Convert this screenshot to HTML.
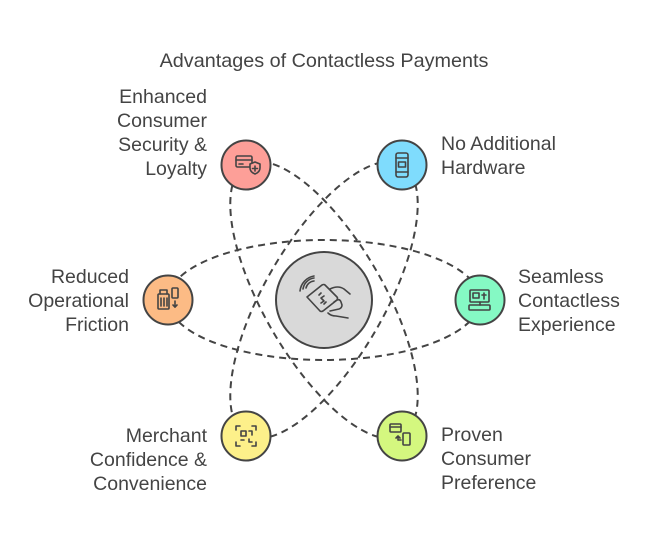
<!DOCTYPE html>
<html><head><meta charset="utf-8"><style>
html,body{margin:0;padding:0;background:#fff;}
svg{display:block;}
text{font-family:"Liberation Sans",Arial,sans-serif;font-size:19.5px;fill:#444;}
</style></head><body>
<svg width="660" height="540" viewBox="0 0 660 540" xmlns="http://www.w3.org/2000/svg">
<rect width="660" height="540" fill="#fff"/>
<text x="324" y="67" text-anchor="middle" style="font-size:19.8px">Advantages of Contactless Payments</text>

<g fill="none" stroke="#444" stroke-width="2" stroke-dasharray="7 5">
<ellipse cx="324" cy="300" rx="156" ry="60"/>
<ellipse cx="324" cy="300" rx="156" ry="60" transform="rotate(60 324 300)"/>
<ellipse cx="324" cy="300" rx="156" ry="60" transform="rotate(-60 324 300)"/>
</g>

<g stroke="#444" stroke-width="2">
<circle cx="324" cy="300" r="48" fill="#d9d9d9"/>
<circle cx="246" cy="165" r="24.5" fill="#fd9f98"/>
<circle cx="402" cy="165" r="24.5" fill="#7fdcfd"/>
<circle cx="168" cy="300" r="24.5" fill="#fcbb85"/>
<circle cx="480" cy="300" r="24.5" fill="#85f9c4"/>
<circle cx="246" cy="436" r="24.5" fill="#fdf08a"/>
<circle cx="402" cy="436" r="24.5" fill="#d4f77f"/>
</g>

<!-- icons -->
<g fill="none" stroke="#444" stroke-width="1.6" stroke-linecap="round" stroke-linejoin="round">
<!-- center: contactless card -->
<path d="M306 288 a9 9 0 0 1 8 -7"/>
<path d="M303 289 a13 13 0 0 1 11 -11"/>
<path d="M300 291 a17 17 0 0 1 14 -15"/>
<path d="M307 297 l15 -12 q2 -1 3 0 l12 12 q1 1 0 3 l-14 11 q-2 1 -3 0 z"/>
<path d="M324 296 l-3 2 l3 3 l-3 2"/>
<line x1="319" y1="295" x2="321" y2="293"/>
<line x1="324" y1="304" x2="326" y2="302"/>
<path d="M330 289 q8 -4 14 0 l6 5"/>
<path d="M334 302 l3 -2 q3 -1 4 2 l1 3 q0 3 -3 4 l-9 2"/>
<path d="M328 313 q3 3 8 3 l12 2"/>
<!-- red: card + shield -->
<rect x="236" y="156" width="16" height="11" rx="1.5"/>
<line x1="236" y1="160" x2="252" y2="160"/>
<line x1="239" y1="164" x2="243" y2="164"/>
<path d="M250 164 l5 -2 l5 2 v4 q0 4 -5 6 q-5 -2 -5 -6 z" fill="#fd9f98"/>
<line x1="255" y1="166" x2="255" y2="171"/>
<line x1="252.5" y1="168.5" x2="257.5" y2="168.5"/>
<!-- blue: phone -->
<rect x="396" y="153" width="12" height="24" rx="2"/>
<line x1="396" y1="158" x2="408" y2="158"/>
<line x1="396" y1="172" x2="408" y2="172"/>
<rect x="398.5" y="162" width="7" height="5"/>
<!-- orange: calculator/pos -->
<rect x="158" y="294" width="11" height="15" rx="1"/>
<path d="M160 294 v-4 h7 v4"/>
<line x1="161" y1="298" x2="161" y2="306"/>
<line x1="164" y1="298" x2="164" y2="306"/>
<line x1="167" y1="298" x2="167" y2="306"/>
<rect x="172" y="288" width="6" height="10" rx="1"/>
<line x1="175" y1="301" x2="175" y2="307"/>
<path d="M173 305 l2 2 l2 -2"/>
<!-- green: computer -->
<rect x="470" y="290" width="19" height="12" rx="1"/>
<rect x="473" y="293" width="6" height="5"/>
<path d="M484 293 v6 M482 295 h4"/>
<line x1="480" y1="302" x2="480" y2="305"/>
<rect x="469" y="305" width="21" height="5" rx="1"/>
<!-- yellow: scan -->
<path d="M236 430 v-4 h4 M252 426 h4 v4 M256 442 v4 h-4 M240 446 h-4 v-4"/>
<rect x="241" y="431" width="5" height="5"/>
<path d="M249 431 h3 v4 M241 440 h3 M249 439 v3 h3"/>
<!-- lime: card to phone -->
<rect x="390" y="424" width="11" height="8" rx="1"/>
<line x1="390" y1="427" x2="401" y2="427"/>
<rect x="403" y="433" width="7" height="12" rx="1"/>
<path d="M398 436 v4 h3 M396 438 l2 -2 l2 2"/>
</g>

<!-- labels -->
<g text-anchor="end">
<text x="207" y="103">Enhanced</text>
<text x="207" y="127">Consumer</text>
<text x="207" y="151">Security &amp;</text>
<text x="207" y="175">Loyalty</text>
<text x="129" y="283">Reduced</text>
<text x="129" y="307">Operational</text>
<text x="129" y="331">Friction</text>
<text x="207" y="442">Merchant</text>
<text x="207" y="466">Confidence &amp;</text>
<text x="207" y="490">Convenience</text>
</g>
<g>
<text x="441" y="150">No Additional</text>
<text x="441" y="174">Hardware</text>
<text x="518" y="283">Seamless</text>
<text x="518" y="307">Contactless</text>
<text x="518" y="331">Experience</text>
<text x="441" y="441">Proven</text>
<text x="441" y="465">Consumer</text>
<text x="441" y="489">Preference</text>
</g>
</svg>
</body></html>
